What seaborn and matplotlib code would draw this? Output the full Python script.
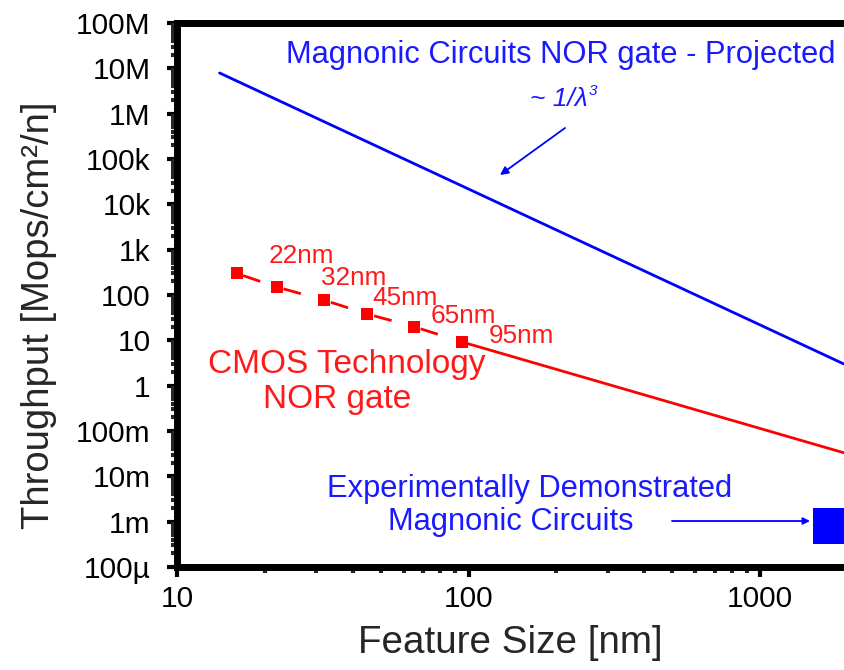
import matplotlib
matplotlib.use("Agg")
import matplotlib.pyplot as plt
import seaborn as sns
import numpy as np
import pandas as pd

# ---------------- data ----------------
magnonic_x = [14, 1940]            # projected magnonic NOR gate (nm)
magnonic_y = [7.9e6, 3.0]          # Mops/cm^2/n

cmos_nodes = [16, 22, 32, 45, 65, 95]          # nm
cmos_vals = [300, 150, 77, 38, 20, 9.2]
cmos_labels = ["22nm", "32nm", "45nm", "65nm", "95nm"]

cmos_trend_x = [95, 1940]
cmos_trend_y = [9.2, 0.033]

demo_x = [1750]
demo_y = [8e-4]

x_ticks = [10, 100, 1000]
x_ticklabels = ["10", "100", "1000"]
y_ticks = [1e-4, 1e-3, 1e-2, 1e-1, 1, 10, 100, 1e3, 1e4, 1e5, 1e6, 1e7, 1e8]
y_ticklabels = ["100µ", "1m", "10m", "100m", "1", "10", "100", "1k", "10k",
                "100k", "1M", "10M", "100M"]

# ---------------- style ----------------
sns.set_style("white")
plt.rcParams["font.family"] = ["Liberation Sans", "DejaVu Sans"]
plt.rcParams["lines.scale_dashes"] = False

BLUE = "#1a1aff"
RED = "#ff1a1a"

W, H = 844, 670
fig = plt.figure(figsize=(W / 100, H / 100), dpi=100)
ax_l, ax_r, ax_t, ax_b = 177, 844, 23, 567
ax = fig.add_axes([ax_l / W, (H - ax_b) / H, (ax_r - ax_l) / W, (ax_b - ax_t) / H])
ax.set_xscale("log")
ax.set_yscale("log")

# projected magnonic line
sns.lineplot(x=magnonic_x, y=magnonic_y, ax=ax, color="blue", linewidth=2.0,
             sort=False)

# CMOS trend (solid)
sns.lineplot(x=cmos_trend_x, y=cmos_trend_y, ax=ax, color="red", linewidth=2.0,
             sort=False)

# CMOS dashed segments between nodes
for i in range(len(cmos_nodes) - 1):
    sns.lineplot(x=cmos_nodes[i:i + 2], y=cmos_vals[i:i + 2], ax=ax,
                 color="red", linewidth=2.0, sort=False,
                 linestyle=(80, (13, 72)))

# CMOS node markers
sns.scatterplot(x=cmos_nodes, y=cmos_vals, ax=ax, marker="s", color="red",
                s=75, linewidth=0, zorder=5)

# demonstrated magnonic circuits marker
sns.scatterplot(x=demo_x, y=demo_y, ax=ax, marker="s", color="blue",
                s=640, linewidth=0, zorder=5)

ax.set_xlim(10, 1940)
ax.set_ylim(1e-4, 1e8)

# node labels
offsets = [(-8, 24), (-3, 15), (5, 9), (17, 4), (27, -1)]
for lab, xv, yv, off in zip(cmos_labels, cmos_nodes[1:], cmos_vals[1:], offsets):
    ax.annotate(lab, (xv, yv), xytext=off, textcoords="offset pixels",
                color=RED, fontsize=18.8, ha="left", va="baseline")

def fx(px):
    return (px - ax_l) / (ax_r - ax_l)

def fy(py):
    return (ax_b - py) / (ax_b - ax_t)

ax.text(fx(561), fy(63), "Magnonic Circuits NOR gate - Projected", color=BLUE,
        fontsize=22.2, ha="center", va="baseline", transform=ax.transAxes)
lam = ax.text(fx(530), fy(106), "~ 1/λ", color=BLUE, fontsize=19,
              style="italic", ha="left", va="baseline", transform=ax.transAxes)
ax.annotate("3", xy=(1.0, 0.55), xycoords=lam, xytext=(1, 0),
            textcoords="offset pixels", color=BLUE, fontsize=11,
            style="italic", ha="left", va="bottom")
ax.annotate("", xy=(fx(500), fy(175)), xytext=(fx(565), fy(128)),
            xycoords="axes fraction", textcoords="axes fraction",
            arrowprops=dict(arrowstyle="-|>", color="blue", lw=1.3,
                            mutation_scale=12, shrinkA=0, shrinkB=0))

ax.text(fx(347), fy(373), "CMOS Technology", color=RED, fontsize=24,
        ha="center", va="baseline", transform=ax.transAxes)
ax.text(fx(337), fy(408), "NOR gate", color=RED, fontsize=24,
        ha="center", va="baseline", transform=ax.transAxes)

ax.text(fx(530), fy(497), "Experimentally Demonstrated", color=BLUE,
        fontsize=22.2, ha="center", va="baseline", transform=ax.transAxes)
ax.text(fx(511), fy(530), "Magnonic Circuits", color=BLUE,
        fontsize=22.2, ha="center", va="baseline", transform=ax.transAxes)
ax.annotate("", xy=(fx(810), fy(521)), xytext=(fx(672), fy(521)),
            xycoords="axes fraction", textcoords="axes fraction",
            arrowprops=dict(arrowstyle="-|>", color="blue", lw=1.3,
                            mutation_scale=10, shrinkA=0, shrinkB=0))

# axes styling
for side in ["top", "left", "bottom"]:
    ax.spines[side].set_visible(True)
    ax.spines[side].set_linewidth(5)
    ax.spines[side].set_color("black")
ax.spines["right"].set_visible(False)

ax.set_xticks(x_ticks)
ax.set_xticklabels(x_ticklabels)
ax.set_yticks(y_ticks)
ax.set_yticklabels(y_ticklabels)
ax.xaxis.set_minor_locator(matplotlib.ticker.LogLocator(base=10, subs=np.arange(2, 10)))
ax.yaxis.set_minor_locator(matplotlib.ticker.LogLocator(base=10, subs=np.arange(2, 10), numticks=30))
ax.xaxis.set_minor_formatter(matplotlib.ticker.NullFormatter())
ax.yaxis.set_minor_formatter(matplotlib.ticker.NullFormatter())
ax.tick_params(which="major", direction="out", length=7, width=3,
               labelsize=21.5, pad=6, colors="black", bottom=True, left=True,
               top=False, right=False)
ax.tick_params(axis="y", which="major", pad=12)
ax.tick_params(which="minor", direction="out", length=4, width=3,
               bottom=True, left=True, top=False, right=False)
ax.grid(False)

ax.set_xlabel("Feature Size [nm]", fontsize=27.8)
ax.set_ylabel("Throughput [Mops/cm²/n]", fontsize=27.5)
ax.xaxis.set_label_coords(0.5, fy(625))
ax.yaxis.set_label_coords(fx(21), fy(315))
ax.yaxis.label.set_va("top")

fig.savefig("out.png", dpi=100)
